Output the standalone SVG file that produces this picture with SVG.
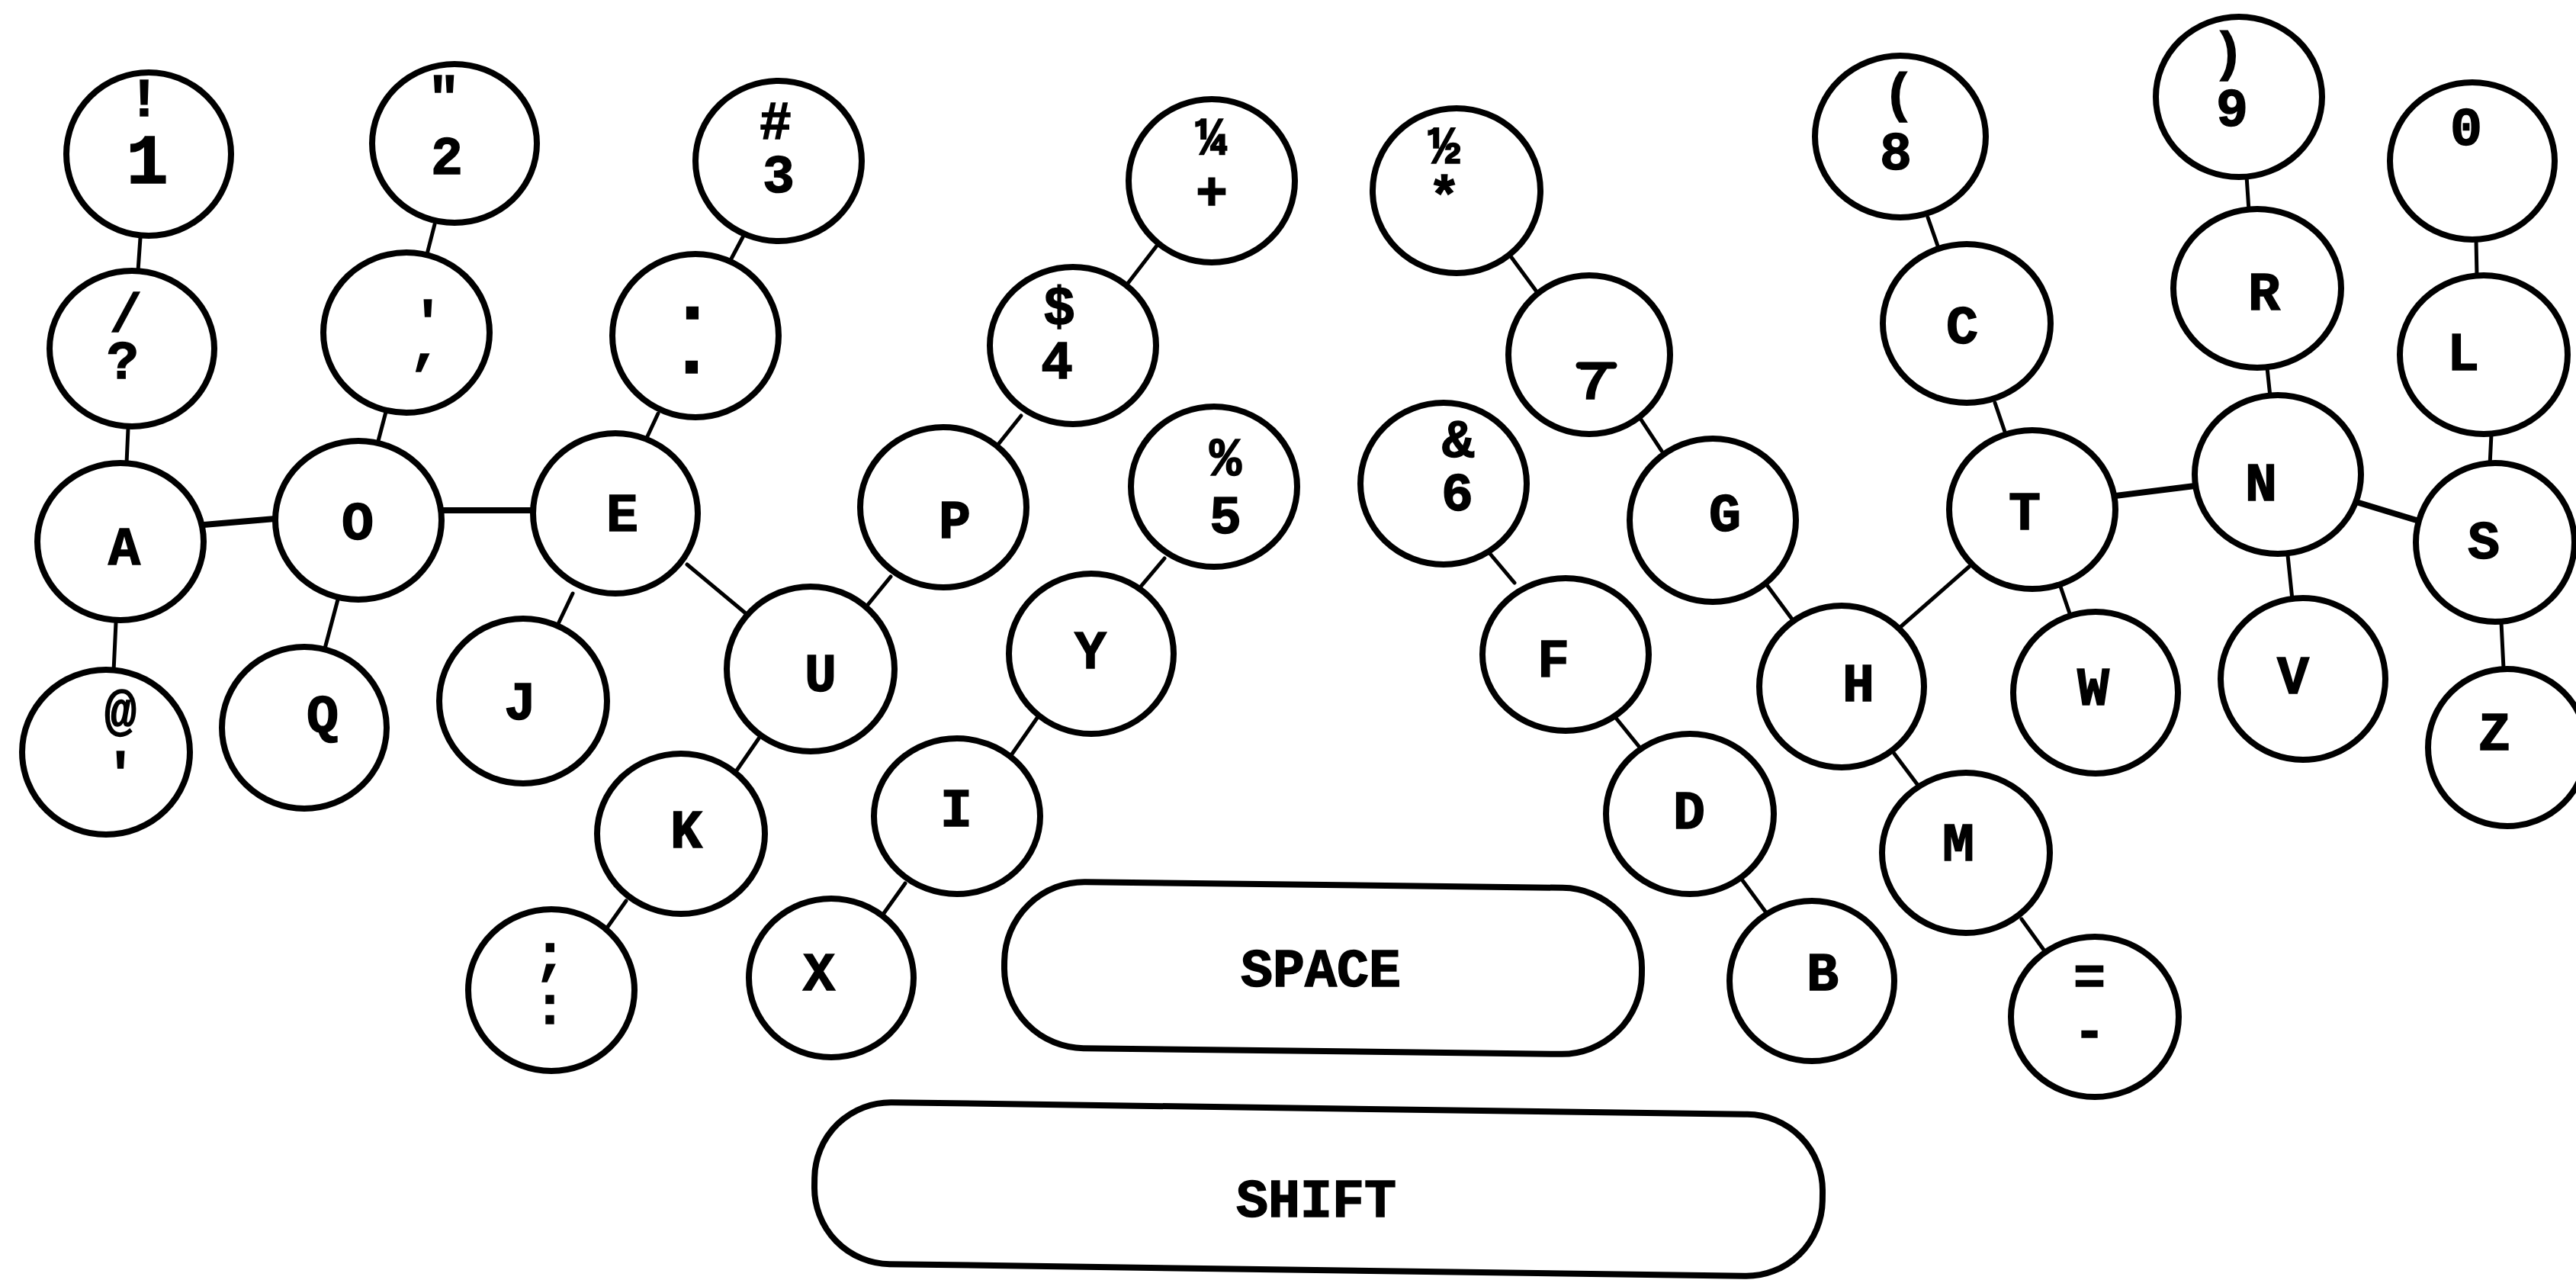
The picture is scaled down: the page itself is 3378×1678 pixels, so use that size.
<svg xmlns="http://www.w3.org/2000/svg" width="3378" height="1678" viewBox="0 0 3378 1678">
<style>
.k{fill:#fff;stroke:#000;stroke-width:8}
.c line{stroke:#000;stroke-width:5;stroke-linecap:round}
.c line.w{stroke-width:8}
text{font-family:"Liberation Mono","Courier New",monospace;font-weight:bold;font-size:70px;text-anchor:middle;fill:#000;stroke:#000;stroke-width:1.5}
.big{font-size:92px}
.dot{font-size:104px}
.bar{stroke:#000;stroke-width:9;stroke-linecap:round}
</style>
<rect width="3378" height="1678" fill="#fff"/>
<g class="c" id="connectors">
<line x1="184" y1="312" x2="181" y2="355"/>
<line x1="168" y1="562" x2="166" y2="607"/>
<line class="w" x1="267" y1="688" x2="361" y2="680"/>
<line x1="152" y1="816" x2="149" y2="880"/>
<line x1="570" y1="294" x2="560" y2="333"/>
<line x1="506" y1="540" x2="496" y2="578"/>
<line class="w" x1="579" y1="669" x2="698" y2="669"/>
<line x1="443" y1="786" x2="426" y2="850"/>
<line x1="975" y1="309" x2="958" y2="341"/>
<line x1="863" y1="542" x2="849" y2="572"/>
<line x1="751" y1="778" x2="730" y2="822"/>
<line x1="901" y1="740" x2="979" y2="805"/>
<line x1="1168" y1="756" x2="1137" y2="794"/>
<line x1="995" y1="968" x2="966" y2="1010"/>
<line x1="821" y1="1181" x2="792" y2="1222"/>
<line x1="1339" y1="545" x2="1307" y2="585"/>
<line x1="1517" y1="322" x2="1477" y2="374"/>
<line x1="1527" y1="732" x2="1495" y2="770"/>
<line x1="1365" y1="934" x2="1326" y2="990"/>
<line x1="1187" y1="1158" x2="1157" y2="1200"/>
<line x1="1981" y1="336" x2="2017" y2="385"/>
<line x1="2152" y1="550" x2="2179" y2="591"/>
<line x1="2317" y1="767" x2="2351" y2="813"/>
<line x1="1954" y1="726" x2="1986" y2="764"/>
<line x1="2118" y1="940" x2="2152" y2="982"/>
<line x1="2282" y1="1150" x2="2315" y2="1195"/>
<line x1="2582" y1="743" x2="2492" y2="822"/>
<line x1="2484" y1="988" x2="2517" y2="1032"/>
<line x1="2651" y1="1205" x2="2682" y2="1248"/>
<line x1="2616" y1="528" x2="2630" y2="569"/>
<line x1="2528" y1="285" x2="2543" y2="328"/>
<line x1="2702" y1="769" x2="2715" y2="807"/>
<line class="w" x1="2774" y1="650" x2="2878" y2="637"/>
<line x1="2973" y1="482" x2="2977" y2="520"/>
<line x1="2946" y1="231" x2="2949" y2="276"/>
<line x1="3000" y1="728" x2="3006" y2="786"/>
<line class="w" x1="3093" y1="659" x2="3172" y2="683"/>
<line x1="3247" y1="314" x2="3248" y2="362"/>
<line x1="3267" y1="569" x2="3265" y2="610"/>
<line x1="3280" y1="816" x2="3283" y2="876"/>
</g>
<g id="k1"><ellipse class="k" cx="195" cy="202" rx="108" ry="107"/><text><tspan x="189" y="152">!</tspan><tspan class="big" x="193" y="240">1</tspan></text></g>
<g id="kslash"><ellipse class="k" cx="173" cy="457" rx="108" ry="102"/><text><tspan x="165" y="434">/</tspan><tspan x="161" y="496">?</tspan></text></g>
<g id="kA"><ellipse class="k" cx="158" cy="710" rx="109" ry="103"/><text x="163" y="740">A</text></g>
<g id="kat"><ellipse class="k" cx="139" cy="986" rx="110" ry="108"/><text><tspan x="158" y="955">@</tspan><tspan x="158" y="1036">'</tspan></text></g>
<g id="k2"><ellipse class="k" cx="596" cy="188" rx="108" ry="104"/><text><tspan x="582" y="150">"</tspan><tspan x="586" y="228">2</tspan></text></g>
<g id="kquote"><ellipse class="k" cx="533" cy="436" rx="109" ry="105"/><text><tspan x="561" y="444">'</tspan><tspan x="558" y="474">,</tspan></text></g>
<g id="kO"><ellipse class="k" cx="470" cy="682" rx="109" ry="104"/><text x="469" y="707">O</text></g>
<g id="kQ"><ellipse class="k" cx="399" cy="954" rx="108" ry="106"/><text x="423" y="960">Q</text></g>
<g id="k3"><ellipse class="k" cx="1021" cy="211" rx="109" ry="105"/><text><tspan x="1017" y="182">#</tspan><tspan x="1021" y="252">3</tspan></text></g>
<g id="kdot"><ellipse class="k" cx="912" cy="440" rx="109" ry="107"/><text class="dot"><tspan x="908" y="418">.</tspan><tspan x="907" y="489">.</tspan></text></g>
<g id="kE"><ellipse class="k" cx="807" cy="673" rx="108" ry="105"/><text x="816" y="696">E</text></g>
<g id="kJ"><ellipse class="k" cx="686" cy="919" rx="110" ry="108"/><text x="682" y="943">J</text></g>
<g id="kU"><ellipse class="k" cx="1063" cy="877" rx="110" ry="108"/><text x="1076" y="906">U</text></g>
<g id="kK"><ellipse class="k" cx="893" cy="1093" rx="110" ry="105"/><text x="900" y="1111">K</text></g>
<g id="ksemi"><ellipse class="k" cx="723" cy="1298" rx="109" ry="106"/><text><tspan x="721" y="1274">;</tspan><tspan x="721" y="1342">:</tspan></text></g>
<g id="kP"><ellipse class="k" cx="1237" cy="665" rx="109" ry="105"/><text x="1252" y="705">P</text></g>
<g id="k4"><ellipse class="k" cx="1407" cy="453" rx="109" ry="103"/><text><tspan x="1389" y="425">$</tspan><tspan x="1386" y="496">4</tspan></text></g>
<g id="kquarter"><ellipse class="k" cx="1589" cy="237" rx="109" ry="107"/><text><tspan x="1589" y="203">¼</tspan><tspan x="1589" y="275">+</tspan></text></g>
<g id="k5"><ellipse class="k" cx="1592" cy="638" rx="109" ry="105"/><text><tspan x="1607" y="623">%</tspan><tspan x="1607" y="699">5</tspan></text></g>
<g id="kY"><ellipse class="k" cx="1431" cy="857" rx="108" ry="105"/><text x="1430" y="876">Y</text></g>
<g id="kI"><ellipse class="k" cx="1255" cy="1070" rx="109" ry="102"/><text x="1254" y="1083">I</text></g>
<g id="kX"><ellipse class="k" cx="1090" cy="1282" rx="108" ry="104"/><text x="1074" y="1298">X</text></g>
<g id="kspace"><rect class="k" x="1317" y="1160" width="836" height="218" rx="105" transform="rotate(0.7 1735 1269)"/><text x="1732" y="1293">SPACE</text></g>
<g id="kshift"><rect class="k" x="1068" y="1453" width="1322" height="212" rx="100" transform="rotate(0.8 1730 1560)"/><text x="1726" y="1595">SHIFT</text></g>
<g id="khalf"><ellipse class="k" cx="1910" cy="250" rx="110" ry="108"/><text><tspan x="1894" y="214">½</tspan><tspan x="1894" y="280">*</tspan></text></g>
<g id="k7"><ellipse class="k" cx="2084" cy="465" rx="106" ry="104"/><line class="bar" x1="2071" y1="479" x2="2116" y2="479"/><text x="2090" y="523">7</text></g>
<g id="k6"><ellipse class="k" cx="1893" cy="634" rx="109" ry="106"/><text><tspan x="1912" y="599">&amp;</tspan><tspan x="1911" y="669">6</tspan></text></g>
<g id="kF"><ellipse class="k" cx="2053" cy="858" rx="109" ry="100"/><text x="2037" y="887">F</text></g>
<g id="kD"><ellipse class="k" cx="2216" cy="1067" rx="110" ry="105"/><text x="2215" y="1086">D</text></g>
<g id="kB"><ellipse class="k" cx="2376" cy="1286" rx="108" ry="105"/><text x="2390" y="1298">B</text></g>
<g id="kG"><ellipse class="k" cx="2246" cy="682" rx="109" ry="107"/><text x="2262" y="696">G</text></g>
<g id="kH"><ellipse class="k" cx="2415" cy="900" rx="108" ry="106"/><text x="2437" y="919">H</text></g>
<g id="kM"><ellipse class="k" cx="2578" cy="1118" rx="110" ry="105"/><text x="2568" y="1128">M</text></g>
<g id="keq"><ellipse class="k" cx="2747" cy="1333" rx="110" ry="105"/><text><tspan x="2740" y="1303">=</tspan><tspan x="2740" y="1374">-</tspan></text></g>
<g id="k8"><ellipse class="k" cx="2492" cy="179" rx="112" ry="106"/><text><tspan x="2490" y="145">(</tspan><tspan x="2486" y="222">8</tspan></text></g>
<g id="kC"><ellipse class="k" cx="2579" cy="424" rx="110" ry="104"/><text x="2573" y="450">C</text></g>
<g id="kT"><ellipse class="k" cx="2665" cy="668" rx="109" ry="104"/><text x="2655" y="694">T</text></g>
<g id="kW"><ellipse class="k" cx="2748" cy="908" rx="108" ry="106"/><text x="2745" y="924">W</text></g>
<g id="k9"><ellipse class="k" cx="2936" cy="127" rx="109" ry="105"/><text><tspan x="2922" y="91">)</tspan><tspan x="2927" y="165">9</tspan></text></g>
<g id="kR"><ellipse class="k" cx="2960" cy="378" rx="110" ry="104"/><text x="2969" y="406">R</text></g>
<g id="kN"><ellipse class="k" cx="2987" cy="622" rx="109" ry="104"/><text x="2965" y="656">N</text></g>
<g id="kV"><ellipse class="k" cx="3020" cy="890" rx="108" ry="106"/><text x="3007" y="909">V</text></g>
<g id="k0"><ellipse class="k" cx="3242" cy="211" rx="108" ry="103"/><text x="3234" y="190">0</text></g>
<g id="kL"><ellipse class="k" cx="3257" cy="465" rx="110" ry="104"/><text x="3230" y="485">L</text></g>
<g id="kS"><ellipse class="k" cx="3272" cy="711" rx="104" ry="104"/><text x="3257" y="732">S</text></g>
<g id="kZ"><ellipse class="k" cx="3288" cy="980" rx="104" ry="103"/><text x="3271" y="983">Z</text></g>
</svg>
